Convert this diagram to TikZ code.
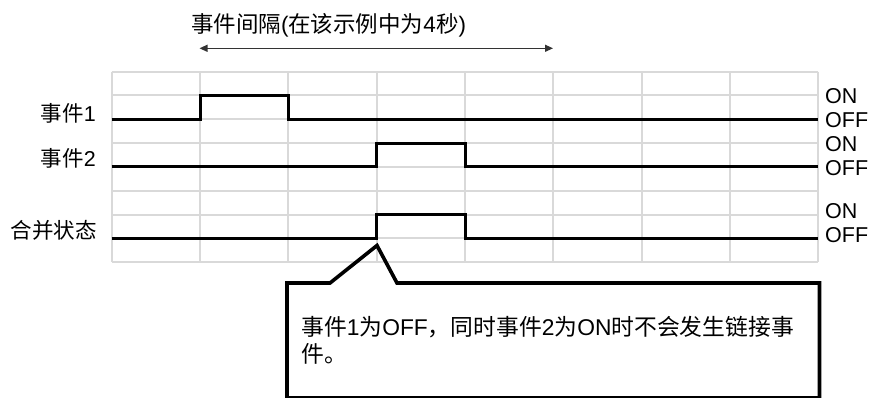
\documentclass[tikz,border=0pt]{standalone}
\usepackage{fontspec}
\setmainfont{Liberation Sans}
\newfontfamily\cjk{Noto Sans CJK SC}
\newcommand{\zh}[1]{{\cjk #1}}
\usetikzlibrary{arrows.meta}
\definecolor{gridgray}{HTML}{D9D9D9}
\definecolor{arrowgray}{HTML}{333333}
\tikzset{
  gridline/.style={draw=gridgray, line width=2pt},
  signal/.style={draw=black, line width=3pt, line join=miter},
  lbl/.style={inner sep=0pt, anchor=east, font=\fontsize{21.5}{26}\selectfont},
  state/.style={inner sep=0pt, anchor=west, font=\fontsize{21.5}{26}\selectfont},
  callout/.style={draw=black, line width=3.6pt, line join=miter, miter limit=10},
  msg/.style={inner sep=0pt, anchor=west, font=\fontsize{22.8}{27}\selectfont},
}
\begin{document}
\begin{tikzpicture}[x=1pt, y=-1pt]
\useasboundingbox (0,0) rectangle (872,398);
% grid
\foreach \i in {0,...,8} {
  \draw[gridline] (111.7+88.33*\i, 71.7) -- (111.7+88.33*\i, 262);
  \draw[gridline] (111.7, 71.7+23.8*\i) -- (818.3, 71.7+23.8*\i);
}
% interval arrow
\node[inner sep=0pt, font=\fontsize{22.5}{27}\selectfont] (title) at (328.5,25)
  {\zh{事件间隔}(\zh{在该示例中为}4\zh{秒})};
\coordinate (aL) at (199.5,48.3);
\coordinate (aR) at (553,48.3);
\draw[arrowgray, line width=1.2pt, {Triangle[length=8pt,width=7pt]}-{Triangle[length=8pt,width=7pt]}] (aL) -- (aR);
% signals
\draw[signal] (111.7,119.3) -- (200,119.3) -- (200,95.5) -- (288.3,95.5) -- (288.3,119.3) -- (818.3,119.3);
\draw[signal] (111.7,167) -- (376.7,167) -- (376.7,143.1) -- (465,143.1) -- (465,167) -- (818.3,167);
\draw[signal] (111.7,238.3) -- (376.7,238.3) -- (376.7,214.5) -- (465,214.5) -- (465,238.3) -- (818.3,238.3);
% left labels
\node[lbl] (e1) at (96,113) {\zh{事件}1};
\node[lbl] (e2) at (96,158.5) {\zh{事件}2};
\node[lbl] (cs) at (97,230.5) {\zh{合并状态}};
% right labels
\node[state] (on1) at (825,96) {ON};
\node[state] (off1) at (825,120.5) {OFF};
\node[state] (on2) at (825,144) {ON};
\node[state] (off2) at (825,168) {OFF};
\node[state] (on3) at (825,211.5) {ON};
\node[state] (off3) at (825,235.5) {OFF};
% callout
\draw[callout] (287,283) -- (330,283) -- (377,245.5) -- (397,283) -- (819.5,283) -- (819.5,398) -- (287,398) -- cycle;
\node[msg] (m1) at (301,327.5) {\zh{事件}1\zh{为}OFF\zh{，同时事件}2\zh{为}ON\zh{时不会发生链接事}};
\node[msg] (m2) at (301,353.5) {\zh{件。}};
\end{tikzpicture}
\end{document}
